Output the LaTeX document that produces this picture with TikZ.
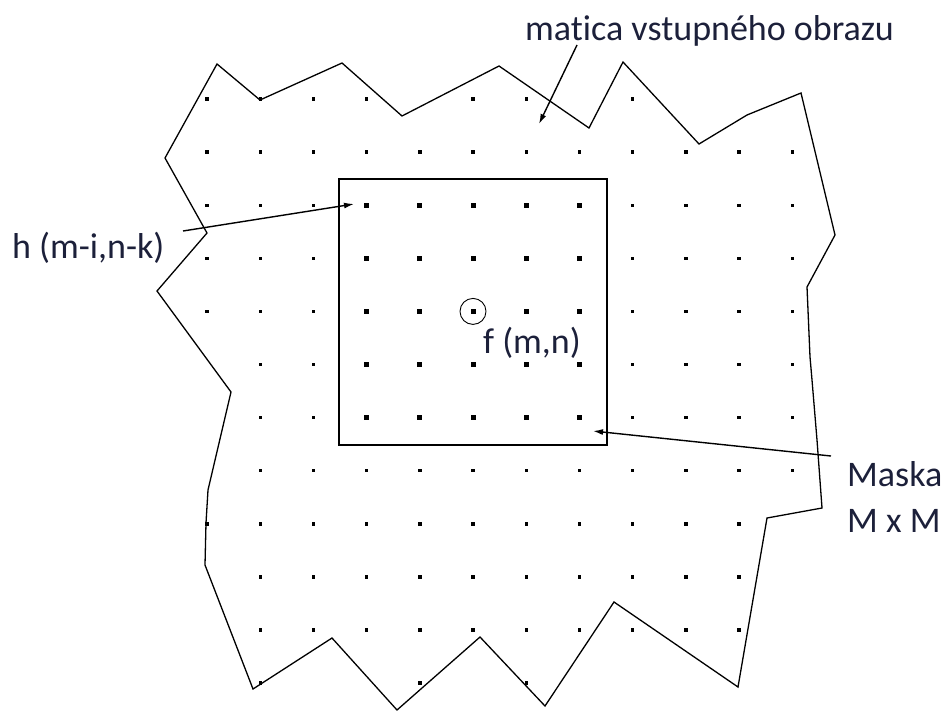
\documentclass[tikz,border=0pt]{standalone}
\usepackage{fontspec}
\setmainfont{Carlito}[Ligatures={NoCommon}]
\usetikzlibrary{arrows.meta}
\definecolor{labelcol}{RGB}{28,32,58}
\tikzset{
  outline/.style={line width=1.3pt, line join=miter},
  maskbox/.style={line width=1.8pt},
  lbl/.style={inner sep=0pt, anchor=base west, text=labelcol, font=\fontsize{36}{43}\selectfont},
  pointer/.style={line width=1.4pt, -{Latex[length=10pt,width=6pt]}},
  smalldot/.style={fill=black},
  bigdot/.style={fill=black}
}
\begin{document}
\begin{tikzpicture}[x=1pt,y=-1pt]
\useasboundingbox (0,0) rectangle (949,712);
% outline of input image
\draw[outline] (217,64) -- (260,100) -- (342,63) -- (402,116) -- (499,66) -- (589,128)
  -- (623,62) -- (699,144) -- (747,115) -- (801,93) -- (835,235) -- (807,287)
  -- (810,357) -- (812,380) -- (817,440) -- (822,508) -- (767,518) -- (738,687)
  -- (614,602) -- (545,706) -- (480,637) -- (397,710) -- (332,638) -- (253,689)
  -- (205,565) -- (206,523) -- (208,490) -- (231,392) -- (157,291) -- (207,233)
  -- (165,158) -- cycle;
% small dots
\foreach \j/\cols in {0/{0,1,2,3,5,6,8},1/{0,1,2,3,4,5,6,7,8,9,10,11},
  2/{0,1,2,8,9,10,11},3/{0,1,2,8,9,10,11},4/{0,1,2,8,9,10,11},
  5/{1,2,8,9,10,11},6/{1,2,8,9,10,11},7/{1,2,3,4,5,6,7,8,9,10,11},
  8/{0,1,2,3,4,5,6,7,8,9,10},9/{1,2,3,4,5,6,7,8,9,10},10/{1,2,3,4,5,6,7,8,9,10},
  11/{1,4,6}}{
  \foreach \i in \cols {
    \fill[smalldot] ({207+53.2*\i-1.7},{99+53.1*\j-1.7}) rectangle +(3.4,3.4);
  }
}
% mask
\node[draw, maskbox, minimum width=268pt, minimum height=266pt, inner sep=0pt, anchor=north west] (mask) at (338,178) {};
\foreach \i in {3,...,7}{
  \foreach \j in {2,...,6}{
    \fill[bigdot] ({207+53.2*\i-2.5},{99+53.1*\j-2.5}) rectangle +(5,5);
  }
}
\node[draw, circle, line width=0.9pt, minimum size=26pt, inner sep=0pt] (center) at (473,311.4) {};
% labels
\node[lbl] (matica) at (525,40) {matica vstupného obrazu};
\node[lbl] (hlab) at (12,258) {h (m-i,n-k)};
\node[lbl] (flab) at (483,353) {f (m,n)};
\node[lbl] (maska) at (847,486) {Maska};
\node[lbl] (mxm) at (847,532) {M x M};
% pointers
\coordinate (matS) at (577,45);
\coordinate (matT) at (539,124);
\coordinate (hS) at (183,231);
\coordinate (hT) at (354,204);
\coordinate (mS) at (831,456);
\coordinate (mT) at (593,431);
\draw[pointer] (matS) -- (matT);
\draw[pointer] (hS) -- (hT);
\draw[pointer] (mS) -- (mT);
\end{tikzpicture}
\end{document}
